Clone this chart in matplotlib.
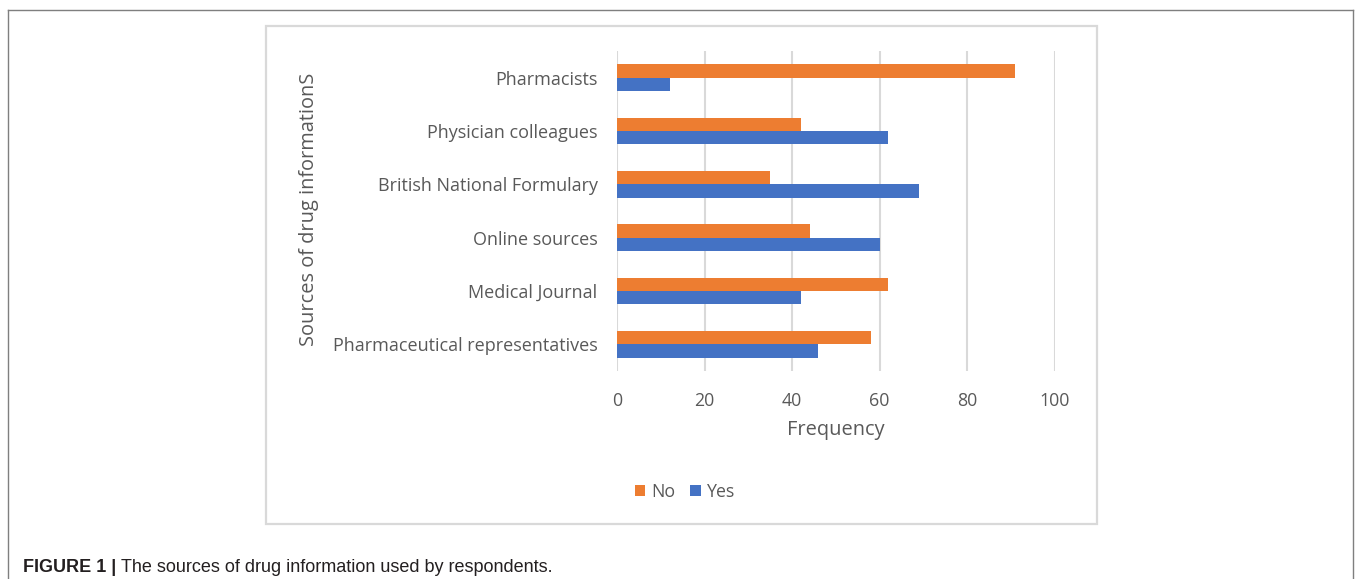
import matplotlib
matplotlib.use("Agg")
import matplotlib.pyplot as plt
from matplotlib.patches import Rectangle, Patch
from matplotlib.lines import Line2D
import numpy as np

# -----------------------------------
# DATA
# -----------------------------------

sources = [
    "Pharmaceutical representatives",
    "Medical Journal",
    "Online sources",
    "British National Formulary",
    "Physician colleagues",
    "Pharmacists",
]
no_counts = [58, 62, 44, 35, 42, 91]
yes_counts = [46, 42, 60, 69, 62, 12]
xticks = [0, 20, 40, 60, 80, 100]

ORANGE = "#ED7D31"
BLUE = "#4472C4"
GREY_TXT = "#595959"
GRID = "#D9D9D9"

plt.rcParams["font.family"] = ["Open Sans", "DejaVu Sans"]

W, H = 1355, 579
fig = plt.figure(figsize=(W / 100, H / 100), dpi=100)


def fx(px):
    return px / W


def fy(py):
    return 1 - py / H


# -----------------------------------
# FRAMES
# -----------------------------------

# outer figure frame (top, left, right)
fig.add_artist(Line2D([fx(8), fx(1353)], [fy(10), fy(10)], color="#7F7F7F", lw=1.0))
fig.add_artist(Line2D([fx(8), fx(8)], [fy(10), fy(579)], color="#7F7F7F", lw=1.0))
fig.add_artist(Line2D([fx(1353), fx(1353)], [fy(10), fy(579)], color="#7F7F7F", lw=1.0))

# chart area box
fig.add_artist(Rectangle((fx(266), fy(524)), fx(1097) - fx(266), fy(26) - fy(524),
                         fill=False, edgecolor=GRID, lw=1.6))

# -----------------------------------
# BAR CHART
# -----------------------------------

ax = fig.add_axes([fx(617), fy(371), fx(1054.5) - fx(617), fy(51) - fy(371)])

y = np.arange(len(sources))
h = 0.25
ax.barh(y + h / 2, no_counts, height=h, color=ORANGE, label="No", zorder=3)
ax.barh(y - h / 2, yes_counts, height=h, color=BLUE, label="Yes", zorder=3)

ax.set_xlim(0, 100)
ax.set_ylim(-0.5, len(sources) - 0.5)
ax.set_xticks(xticks)
ax.set_yticks(y)
ax.set_yticklabels(sources)
ax.grid(axis="x", color=GRID, lw=1.5, zorder=0)
for s in ax.spines.values():
    s.set_visible(False)
ax.tick_params(axis="both", length=0, colors=GREY_TXT)
ax.tick_params(axis="y", pad=14, labelsize=13)
ax.tick_params(axis="x", pad=15, labelsize=12.8)

fig.text(fx(836), fy(430), "Frequency", ha="center", va="center",
         fontsize=14.4, color=GREY_TXT)
fig.text(fx(309), fy(209), "Sources of drug informationS", ha="center", va="center",
         rotation=90, fontsize=14.4, color=GREY_TXT)

handles = [Patch(facecolor=ORANGE, label="No"), Patch(facecolor=BLUE, label="Yes")]
fig.legend(handles=handles, loc="center", bbox_to_anchor=(fx(685), fy(492)), ncol=2,
           frameon=False, fontsize=12.8, labelcolor=GREY_TXT,
           handlelength=0.6, handleheight=0.6, handletextpad=0.35, columnspacing=0.8)

# -----------------------------------
# CAPTION
# -----------------------------------

cap_font = ["Liberation Sans Narrow", "Liberation Sans", "DejaVu Sans"]
t1 = fig.text(fx(23), fy(567), "FIGURE 1 |", ha="left", va="center", fontsize=13,
              fontweight="bold", color="#231F20", family=cap_font)
fig.canvas.draw()
bb = t1.get_window_extent()
fig.text((bb.x1 + 5) / W, fy(567), "The sources of drug information used by respondents.",
         ha="left", va="center", fontsize=13, color="#231F20", family=cap_font)

fig.savefig("out.png", dpi=100)
